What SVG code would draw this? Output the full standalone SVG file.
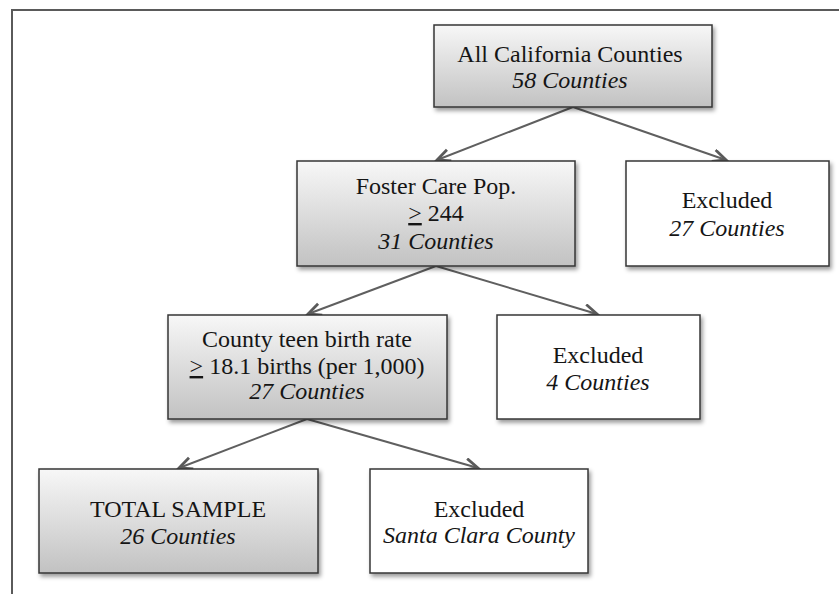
<svg xmlns="http://www.w3.org/2000/svg" width="839" height="594" viewBox="0 0 839 594">
  <style>
    .box { stroke: #363636; stroke-width: 1.5; filter: url(#shadow); }
    .grey { fill: url(#grad); }
    .white { fill: #ffffff; }
    .label { font-family: "Liberation Serif", "Times New Roman", serif; font-size: 24px; fill: #151515; text-anchor: middle; }
    .it { font-style: italic; }
    .edge { stroke: #5f5f5f; stroke-width: 2; fill: none; marker-end: url(#arrow); }
  </style>
  <defs>
    <linearGradient id="grad" x1="0" y1="0" x2="0" y2="1">
      <stop offset="0" stop-color="#f7f7f7"/>
      <stop offset="1" stop-color="#c2c2c2"/>
    </linearGradient>
    <filter id="shadow" x="-10%" y="-10%" width="125%" height="130%">
      <feDropShadow dx="2" dy="3" stdDeviation="2" flood-color="#000" flood-opacity="0.4"/>
    </filter>
    <marker id="arrow" markerUnits="userSpaceOnUse" markerWidth="20" markerHeight="20" refX="14" refY="7" orient="auto">
      <path d="M1,1 L14,7 L1,13" fill="none" stroke="#5a5a5a" stroke-width="2.8" stroke-linejoin="miter"/>
    </marker>
  </defs>

  <!-- outer frame (top and left edges) -->
  <path d="M12,594 L12,10 L839,10" fill="none" stroke="#5a5a5a" stroke-width="2"/>

  <g id="connectors">
    <line class="edge" x1="573" y1="107" x2="437" y2="160"/>
    <line class="edge" x1="573" y1="107" x2="726" y2="160"/>
    <line class="edge" x1="436" y1="266" x2="308" y2="314"/>
    <line class="edge" x1="436" y1="266" x2="597" y2="314"/>
    <line class="edge" x1="307" y1="419" x2="179" y2="468"/>
    <line class="edge" x1="307" y1="419" x2="478" y2="468"/>
  </g>

  <g id="all-counties">
    <rect class="box grey" x="434" y="25" width="278" height="82"/>
    <text class="label" x="570" y="62">All California Counties</text>
    <text class="label it" x="570" y="88">58 Counties</text>
  </g>

  <g id="foster-care">
    <rect class="box grey" x="297" y="161" width="278" height="105"/>
    <text class="label" x="436" y="194">Foster Care Pop.</text>
    <text class="label" x="436" y="221"><tspan text-decoration="underline">&gt;</tspan> 244</text>
    <text class="label it" x="436" y="249">31 Counties</text>
  </g>

  <g id="excluded-27">
    <rect class="box white" x="626" y="161" width="203" height="105"/>
    <text class="label" x="727" y="208">Excluded</text>
    <text class="label it" x="727" y="236">27 Counties</text>
  </g>

  <g id="teen-birth-rate">
    <rect class="box grey" x="168" y="315" width="279" height="104"/>
    <text class="label" x="307" y="347">County teen birth rate</text>
    <text class="label" x="307" y="374"><tspan text-decoration="underline">&gt;</tspan> 18.1 births (per 1,000)</text>
    <text class="label it" x="307" y="399">27 Counties</text>
  </g>

  <g id="excluded-4">
    <rect class="box white" x="497" y="315" width="203" height="104"/>
    <text class="label" x="598" y="363">Excluded</text>
    <text class="label it" x="598" y="390">4 Counties</text>
  </g>

  <g id="total-sample">
    <rect class="box grey" x="39" y="469" width="279" height="104"/>
    <text class="label" x="178" y="517">TOTAL SAMPLE</text>
    <text class="label it" x="178" y="544">26 Counties</text>
  </g>

  <g id="excluded-santa-clara">
    <rect class="box white" x="370" y="469" width="218" height="104"/>
    <text class="label" x="479" y="517">Excluded</text>
    <text class="label it" x="479" y="543">Santa Clara County</text>
  </g>
</svg>
